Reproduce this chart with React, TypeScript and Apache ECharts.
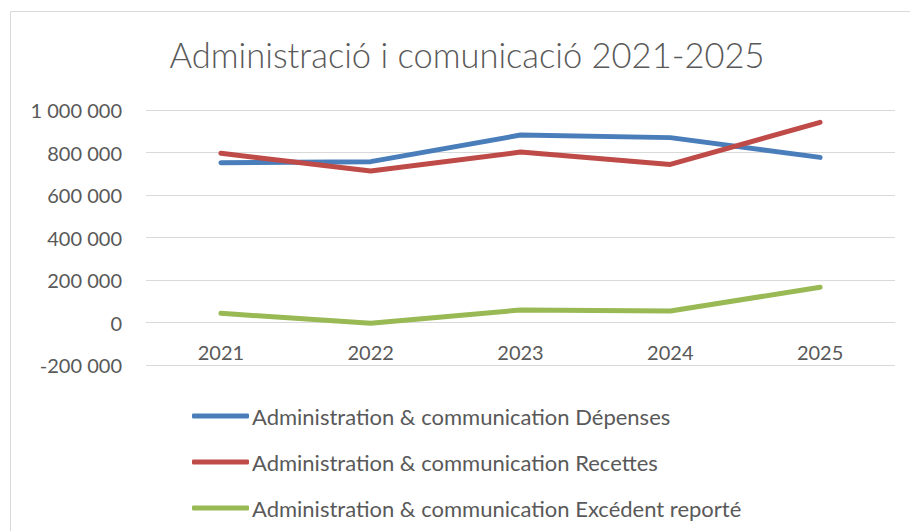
import React, { useEffect, useRef } from "react";
import * as echarts from "echarts";

const years = ["2021", "2022", "2023", "2024", "2025"];
const depenses = [752000, 757000, 882000, 870000, 777000];
const recettes = [796000, 713000, 802000, 744000, 942000];
const excedent = [43000, -3000, 59000, 54000, 166000];
const seriesNames = [
  "Administration & communication Dépenses",
  "Administration & communication Recettes",
  "Administration & communication Excédent reporté",
];
const colors = ["#4A7EBB", "#BE4B48", "#98B954"];
const titleText = "Administració i comunicació 2021-2025";

const FONT = "Lato";
const TEXT = "#595959";

function fmt(v: number): string {
  const s = Math.abs(v).toString().replace(/\B(?=(\d{3})+(?!\d))/g, " ");
  return (v < 0 ? "-" : "") + s;
}

export default function App() {
  const ref = useRef<HTMLDivElement>(null);
  useEffect(() => {
    if (!ref.current) return;
    const chart = echarts.init(ref.current, undefined, { renderer: "svg" });
    const data = [depenses, recettes, excedent];
    chart.setOption({
      animation: false,
      backgroundColor: "#ffffff",
      graphic: [
        {
          type: "rect",
          shape: { x: 10.5, y: 11.5, width: 1000, height: 1000 },
          style: { fill: "none", stroke: "#d9d9d9", lineWidth: 1 },
          silent: true,
          z: -10,
        },
        {
          type: "text",
          x: 467,
          y: 54,
          style: {
            text: titleText,
            fill: TEXT,
            fontFamily: FONT,
            fontWeight: 300,
            fontSize: 34.5,
            align: "center",
            verticalAlign: "middle",
          },
        },
      ],
      grid: { left: 146, right: 15, top: 110, bottom: 166 },
      legend: {
        orient: "vertical",
        left: 192,
        top: 403,
        padding: 0,
        itemWidth: 57,
        itemHeight: 5,
        itemGap: 20,
        icon: "roundRect",
        data: seriesNames,
        textStyle: {
          color: TEXT,
          fontFamily: FONT,
          fontSize: 22,
          lineHeight: 26,
          padding: [0, 0, 0, -2],
        },
      },
      xAxis: {
        type: "category",
        data: years,
        boundaryGap: true,
        position: "bottom",
        offset: -42.5,
        axisLine: { show: true, onZero: false, lineStyle: { color: "#d9d9d9", width: 1 } },
        axisTick: { show: false },
        axisLabel: { color: TEXT, fontFamily: FONT, fontSize: 20, margin: 19 },
      },
      yAxis: {
        type: "value",
        min: -200000,
        max: 1000000,
        interval: 200000,
        axisLine: { show: false },
        axisTick: { show: false },
        splitLine: { lineStyle: { color: "#d9d9d9", width: 1 } },
        axisLabel: {
          color: TEXT,
          fontFamily: FONT,
          fontSize: 20,
          margin: 24,
          formatter: (v: number) => fmt(v),
        },
      },
      series: seriesNames.map((name, i) => ({
        name,
        type: "line",
        data: data[i],
        symbol: "none",
        color: colors[i],
        lineStyle: { width: 5, color: colors[i], cap: "round", join: "round" },
        itemStyle: { color: colors[i] },
      })),
    });
    return () => chart.dispose();
  }, []);
  return (
    <div
      ref={ref}
      style={{ position: "fixed", left: 0, top: 0, width: 910, height: 531 }}
    />
  );
}
